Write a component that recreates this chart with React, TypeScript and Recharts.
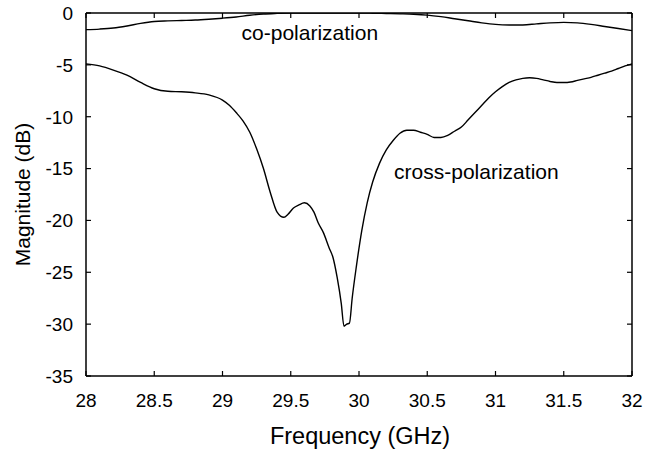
import React from 'react';
import { LineChart, Line, XAxis, YAxis, ReferenceDot, Label } from 'recharts';

const freqTicks = [28, 28.5, 29, 29.5, 30, 30.5, 31, 31.5, 32];
const magTicks = [0, -5, -10, -15, -20, -25, -30, -35];

const coFreq = [28.0, 28.1, 28.2, 28.3, 28.4, 28.5, 28.6, 28.7, 28.8, 28.9, 29.0, 29.1, 29.2, 29.3, 29.4, 29.5, 29.6, 29.7, 29.8, 29.9, 30.0, 30.1, 30.2, 30.3, 30.4, 30.5, 30.6, 30.7, 30.8, 30.9, 31.0, 31.1, 31.2, 31.3, 31.4, 31.5, 31.6, 31.7, 31.8, 31.9, 32.0];
const coMag = [-1.6, -1.55, -1.45, -1.25, -1.0, -0.82, -0.76, -0.72, -0.68, -0.6, -0.5, -0.38, -0.22, -0.1, -0.04, 0, 0, 0, 0, 0, 0, -0.02, -0.05, -0.08, -0.12, -0.2, -0.35, -0.55, -0.75, -0.95, -1.1, -1.15, -1.15, -1.05, -0.95, -0.9, -0.95, -1.1, -1.3, -1.5, -1.7];

const crossFreq = [28.0, 28.1, 28.2, 28.3, 28.4, 28.5, 28.6, 28.7, 28.8, 28.9, 29.0, 29.05, 29.1, 29.15, 29.2, 29.25, 29.3, 29.35, 29.4, 29.45, 29.48, 29.52, 29.56, 29.6, 29.64, 29.67, 29.7, 29.74, 29.78, 29.81, 29.84, 29.87, 29.89, 29.91, 29.93, 29.95, 29.98, 30.02, 30.06, 30.1, 30.15, 30.2, 30.25, 30.3, 30.35, 30.4, 30.45, 30.5, 30.55, 30.6, 30.65, 30.7, 30.75, 30.8, 30.85, 30.9, 30.95, 31.0, 31.05, 31.1, 31.15, 31.2, 31.25, 31.3, 31.35, 31.4, 31.45, 31.5, 31.55, 31.6, 31.65, 31.7, 31.75, 31.8, 31.85, 31.9, 31.95, 32.0];
const crossMag = [-4.9, -5.1, -5.5, -6.0, -6.7, -7.3, -7.55, -7.6, -7.7, -7.9, -8.4, -8.9, -9.6, -10.4, -11.5, -13.1, -15.0, -17.3, -19.2, -19.7, -19.4, -18.8, -18.5, -18.3, -18.6, -19.2, -20.2, -21.2, -22.6, -23.6, -25.5, -28.0, -30.2, -30.0, -29.9, -27.5, -24.5, -21.0, -18.3, -16.3, -14.5, -13.2, -12.3, -11.6, -11.3, -11.3, -11.5, -11.7, -12.0, -12.0, -11.8, -11.4, -11.0, -10.3, -9.6, -8.9, -8.2, -7.6, -7.1, -6.7, -6.45, -6.3, -6.25, -6.3, -6.45, -6.6, -6.7, -6.7, -6.65, -6.5, -6.35, -6.2, -6.0, -5.8, -5.6, -5.35, -5.1, -4.9];

const coLabel = { f: 29.64, m: -1.9, text: 'co-polarization' };
const crossLabel = { f: 30.86, m: -15.3, text: 'cross-polarization' };

const coData = coFreq.map((f, i) => ({ f, m: coMag[i] }));
const crossData = crossFreq.map((f, i) => ({ f, m: crossMag[i] }));

const FONT = '"Liberation Sans", Arial, Helvetica, sans-serif';
const TICK = 5;

const LeftTick = (p: any) => (
  <g>
    <line x1={p.x + 13} x2={p.x + 13 + TICK} y1={p.y} y2={p.y} stroke="#000" strokeWidth={1.2} />
    <text x={p.x} y={p.y} dy="0.36em" textAnchor="end" fontSize={19} fontFamily={FONT} fill="#000">{p.payload.value}</text>
  </g>
);
const RightTick = (p: any) => (
  <line x1={p.x} x2={p.x - TICK} y1={p.y} y2={p.y} stroke="#000" strokeWidth={1.2} />
);
const BottomTick = (p: any) => (
  <g>
    <line x1={p.x} x2={p.x} y1={p.y - 17} y2={p.y - 17 - TICK} stroke="#000" strokeWidth={1.2} />
    <text x={p.x} y={p.y} dy="0.72em" textAnchor="middle" fontSize={19} fontFamily={FONT} fill="#000">{p.payload.value}</text>
  </g>
);
const TopTick = (p: any) => (
  <line x1={p.x} x2={p.x} y1={p.y} y2={p.y + TICK} stroke="#000" strokeWidth={1.2} />
);

const YTitle = (p: any) => {
  const vb = p.viewBox;
  const x = vb.x + 23;
  const y = vb.y + vb.height / 2;
  return (
    <text x={x} y={y} transform={`rotate(-90, ${x}, ${y})`} textAnchor="middle" dy="0.35em" fontSize={21} fontFamily={FONT} fill="#000">Magnitude (dB)</text>
  );
};
const XTitle = (p: any) => {
  const vb = p.viewBox;
  const x = vb.x + vb.width / 2 + 1;
  const y = vb.y + 60;
  return (
    <text x={x} y={y} textAnchor="middle" dy="0.35em" fontSize={23.5} fontFamily={FONT} fill="#000">Frequency (GHz)</text>
  );
};

export default function App() {
  return (
    <div style={{ position: 'absolute', left: 0, top: 0, width: 647, height: 449, background: '#fff' }}>
      <LineChart width={647} height={449} margin={{ top: 0, right: 0, bottom: 0, left: 0 }}>
        <XAxis dataKey="f" type="number" domain={[28, 32]} ticks={freqTicks} allowDataOverflow
          height={73} tickSize={0} tickMargin={17} tick={<BottomTick />} tickLine={false}
          axisLine={{ stroke: '#000', strokeWidth: 1.5 }}>
          <Label content={<XTitle />} />
        </XAxis>
        <XAxis xAxisId="t" orientation="top" dataKey="f" type="number" domain={[28, 32]} ticks={freqTicks} allowDataOverflow
          height={13} tickSize={0} tickMargin={0} tick={<TopTick />} tickLine={false}
          axisLine={{ stroke: '#000', strokeWidth: 1.5 }} />
        <YAxis type="number" domain={[-35, 0]} ticks={magTicks} allowDataOverflow
          width={86} tickSize={0} tickMargin={13} tick={<LeftTick />} tickLine={false}
          axisLine={{ stroke: '#000', strokeWidth: 1.5 }}>
          <Label content={<YTitle />} />
        </YAxis>
        <YAxis yAxisId="r" orientation="right" type="number" domain={[-35, 0]} ticks={magTicks} allowDataOverflow
          width={15} tickSize={0} tickMargin={0} tick={<RightTick />} tickLine={false}
          axisLine={{ stroke: '#000', strokeWidth: 1.5 }} />
        <Line data={coData} dataKey="m" type="monotone" stroke="#000" strokeWidth={1.4} dot={false} isAnimationActive={false} />
        <Line data={crossData} dataKey="m" type="monotone" stroke="#000" strokeWidth={1.4} dot={false} isAnimationActive={false} />
        <ReferenceDot x={coLabel.f} y={coLabel.m} r={0} stroke="none" fill="none"
          label={{ value: coLabel.text, position: 'center', fontSize: 21, fontFamily: FONT, fill: '#000' }} />
        <ReferenceDot x={crossLabel.f} y={crossLabel.m} r={0} stroke="none" fill="none"
          label={{ value: crossLabel.text, position: 'center', fontSize: 21, fontFamily: FONT, fill: '#000' }} />
      </LineChart>
    </div>
  );
}
